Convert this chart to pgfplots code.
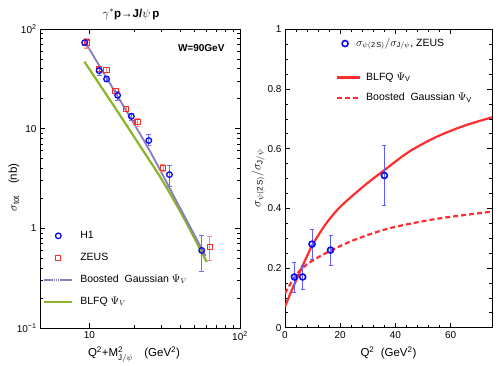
\documentclass[border=0pt]{standalone}
\usepackage{amsmath}
\usepackage{fontspec}
\setmainfont{Liberation Sans}
\usepackage{pgfplots}
\pgfplotsset{compat=1.18}
\definecolor{honeblue}{RGB}{10,10,245}
\definecolor{honeerr}{RGB}{110,110,255}
\definecolor{zeusred}{RGB}{250,45,45}
\definecolor{zeuserr}{RGB}{248,135,135}
\definecolor{bgpurple}{RGB}{135,125,185}
\definecolor{blfqgreen}{RGB}{140,180,40}
\definecolor{curvered}{RGB}{255,45,45}
\definecolor{ratioerr}{RGB}{95,95,255}

\pgfplotsset{
  panel/.style={
    scale only axis,
    anchor=south west,
    major tick length=5pt,
    minor tick length=3pt,
    axis line style={line width=0.8pt},
    tick style={black, line width=0.6pt},
    tick label style={font=\fontsize{10}{12}\selectfont},
    label style={font=\fontsize{11.5}{13}\selectfont},
    legend cell align=left,
  },
}

\begin{document}
\begin{tikzpicture}
\path[use as bounding box] (0,0) rectangle (499pt,366pt);

% left panel: sigma_tot vs Q^2+M^2
\begin{axis}[
  panel,
  at={(40pt,38pt)},
  width=200pt, height=299pt,
  xmode=log, ymode=log,
  xmin=4.7, xmax=100, ymin=0.1, ymax=100,
  xtick={10,100}, xticklabels={10,10\textsuperscript{2}},
  ytick={0.1,1,10,100}, yticklabels={10\textsuperscript{−1},1,10,10\textsuperscript{2}},
  title={$\gamma^*$\textbf{p→J/}$\psi$\,\textbf{p}},
  title style={at={(axis description cs:0.455,1)}, anchor=south, yshift=0pt,
    font=\fontsize{11.5}{13}\selectfont},
  xlabel={Q\textsuperscript{2}+M$^{\textrm{2}}_{\textrm{J}/\psi}$\quad (GeV\textsuperscript{2})},
  xlabel style={at={(axis description cs:0.47,-0.097)}, anchor=base},
  ylabel={$\sigma_{\textrm{tot}}$\quad(nb)},
  ylabel style={at={(axis description cs:-0.13,0.47)}, anchor=center},
  legend style={draw=none, fill=none, at={(0.015,0.324)}, anchor=north west,
    inner sep=0pt, row sep=13pt,
    nodes={inner sep=0pt, text height=7pt, text depth=2pt},
    font=\fontsize{10.5}{12}\selectfont},
  legend image code/.code={
    \draw[mark repeat=2,mark phase=2,#1] plot coordinates {(0pt,0pt) (14pt,0pt) (28pt,0pt)};
    \path[draw=none, fill=none] (0pt,-4pt) rectangle (36pt,4pt);},
]
\addlegendimage{only marks, mark=o, honeblue, mark size=2.8pt, line width=1.3pt}
\addlegendentry{H1}
\addlegendimage{only marks, mark=square, zeusred, mark size=2.6pt, line width=1.1pt}
\addlegendentry{ZEUS}
\addlegendimage{bgpurple, line width=1.8pt, dash pattern=on 1.5pt off 0.4pt}
\addlegendentry{Boosted\ \ Gaussian $\Psi_V$}
\addlegendimage{blfqgreen, line width=2.2pt}
\addlegendentry{BLFQ $\Psi_V$}

\addplot[forget plot, blfqgreen, line width=2.2pt, smooth] coordinates {
  (9.26,47) (14.4,17.3) (22.6,6.1) (30.2,3.1) (42,1.3) (60.1,0.46)};
\addplot[forget plot, bgpurple, line width=1.8pt, smooth] coordinates {
  (9.26,76) (15.35,21.3) (25.0,6.1) (38.8,1.75) (59.0,0.53)};

\addplot[forget plot, only marks, mark=square, zeusred, mark size=2.6pt, line width=1.1pt,
  error bars/.cd, y dir=both, y explicit,
  error bar style={zeuserr, line width=0.8pt},
  error mark options={rotate=90, mark size=2.5pt, zeuserr, line width=0.8pt}]
  table[x=x, y=y, y error plus=ep, y error minus=em] {
  x     y     ep    em
  9.6   73    8     9
  11.6  40.0  2.5   2.5
  13.0  38.8  2     2
  14.9  24.0  1.5   1.5
  17.5  15.8  1     1
  20.9  11.6  1     1
  30.8  4.0   0.35  0.3
  63.0  0.65  0.18  0.17
};
\addplot[forget plot, only marks, mark=o, honeblue, mark size=2.8pt, line width=1.3pt,
  error bars/.cd, y dir=both, y explicit,
  error bar style={honeerr, line width=0.8pt},
  error mark options={rotate=90, mark size=2.5pt, honeerr, line width=0.8pt}]
  table[x=x, y=y, y error plus=ep, y error minus=em] {
  x     y     ep    em
  9.3   73    4     4
  11.6  38.2  3     4
  13.0  31.5  2     2
  15.4  21.6  1.9   2.2
  19.0  13.3  1.0   1.1
  24.8  7.6   1.2   0.75
  34.0  3.46  0.78  0.8
  55.7  0.60  0.24  0.23
};
\node[anchor=east, font=\bfseries\fontsize{10}{12}\selectfont] at (rel axis cs:0.94,0.9375) {W=90GeV};
\end{axis}

% right panel: ratio
\begin{axis}[
  panel,
  at={(285pt,38.3pt)},
  width=207pt, height=298.4pt,
  xmin=0, xmax=75, ymin=0, ymax=1,
  xtick={0,20,40,60}, ytick={0,0.2,0.4,0.6,0.8,1},
  minor x tick num=4, minor y tick num=3,
  /pgf/number format/assume math mode=true,
  xlabel={Q\textsuperscript{2}\ \ (GeV\textsuperscript{2})},
  xlabel style={at={(axis description cs:0.5,-0.097)}, anchor=base},
  ylabel={$\sigma_{\psi(\textrm{2\,S})}/\sigma_{\textrm{J}/\psi}$},
  ylabel style={at={(axis description cs:-0.13,0.5)}, anchor=center},
  legend style={draw=none, fill=none, at={(0.27,0.968)}, anchor=north west,
    inner sep=0pt,
    nodes={inner sep=0pt, text height=7pt, text depth=2pt},
    font=\fontsize{10.5}{12}\selectfont},
  legend image code/.code={
    \draw[#1] plot coordinates {(4pt,0pt)};
    \path[draw=none, fill=none] (0pt,-4pt) rectangle (15pt,4pt);},
]
\addlegendimage{only marks, mark=o, honeblue, mark size=3pt, line width=1.6pt}
\addlegendentry{$\sigma_{\psi(\textrm{2\,S})}/\sigma_{\textrm{J}/\psi}$, ZEUS}

\addplot[forget plot, curvered, line width=2.2pt, smooth] coordinates {
  (0,0.07) (2,0.116) (4,0.158) (6,0.2) (8,0.24) (10,0.278) (14.5,0.344)
  (20,0.405) (29,0.478) (36,0.528) (45,0.59) (55,0.64) (65,0.677) (75,0.705)};
\addplot[forget plot, curvered, line width=2.2pt, dash pattern=on 5pt off 3pt, smooth] coordinates {
  (0,0.115) (2,0.148) (4,0.176) (6,0.197) (10,0.225) (16.5,0.258) (24,0.29)
  (32,0.317) (40,0.338) (55,0.365) (75,0.389)};

\addplot[forget plot, only marks, mark=o, honeblue, mark size=3pt, line width=1.6pt,
  error bars/.cd, y dir=both, y explicit,
  error bar style={ratioerr, line width=0.7pt},
  error mark options={rotate=90, mark size=2pt, ratioerr, line width=0.7pt}]
  table[x=x, y=y, y error plus=ep, y error minus=em] {
  x     y     ep    em
  3.4   0.17  0.05  0.05
  6.4   0.17  0.04  0.04
  9.8   0.28  0.05  0.05
  16.5  0.26  0.05  0.05
  36.0  0.51  0.10  0.10
};
\end{axis}

% second legend of the right panel (curves)
\begin{axis}[
  panel, hide axis,
  at={(285pt,38.3pt)},
  width=207pt, height=298.4pt,
  xmin=0, xmax=75, ymin=0, ymax=1,
  legend style={draw=none, fill=none, at={(0.246,0.854)}, anchor=north west,
    inner sep=0pt, row sep=11.4pt,
    nodes={inner sep=0pt, text height=7pt, text depth=2pt},
    font=\fontsize{10.5}{12}\selectfont},
  legend image code/.code={
    \draw[#1] (0pt,0pt) -- (23pt,0pt);
    \path[draw=none, fill=none] (0pt,-4pt) rectangle (29pt,4pt);},
]
\addlegendimage{curvered, line width=2.2pt}
\addlegendentry{BLFQ $\Psi_{\textrm{V}}$}
\addlegendimage{curvered, line width=2.2pt, dash pattern=on 5pt off 3pt}
\addlegendentry{Boosted\ \ Gaussian $\Psi_{\textrm{V}}$}
\end{axis}
\end{tikzpicture}
\end{document}
